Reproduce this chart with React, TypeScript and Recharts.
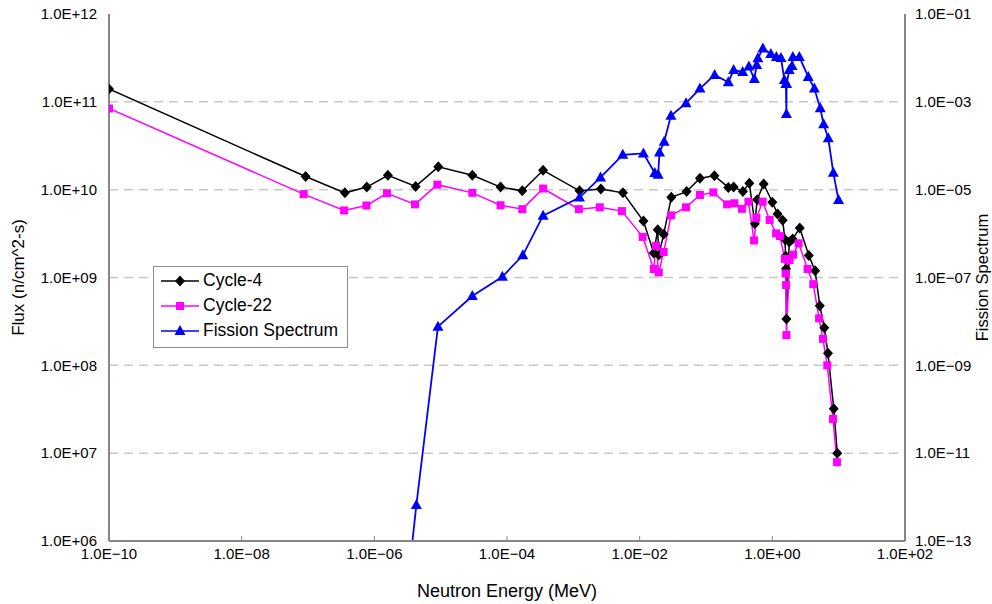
import React from 'react';
import {
  ComposedChart,
  Line,
  XAxis,
  YAxis,
  ReferenceLine,
  Legend,
} from 'recharts';

// values
const cycle4Energy = [1.0e-10, 9.2e-8, 3.6e-7, 7.7e-7, 1.6e-6, 4.2e-6, 9.2e-6, 3.0e-5, 8.0e-5, 1.7e-4, 3.5e-4, 1.24e-3, 2.6e-3, 5.6e-3, 1.14e-2, 1.63e-2, 1.87e-2, 1.94e-2, 2.3e-2, 3.0e-2, 5.1e-2, 8.1e-2, 0.134, 0.217, 0.261, 0.36, 0.45, 0.545, 0.59, 0.74, 1.0, 1.2, 1.43, 1.55, 1.585, 1.61, 1.63, 1.8, 2.02, 2.59, 3.55, 4.42, 5.19, 6.07, 6.9, 8.43, 9.53];
const cycle4Flux = [1.4e11, 1.41e10, 9.2e9, 1.07e10, 1.46e10, 1.09e10, 1.82e10, 1.46e10, 1.07e10, 9.7e9, 1.66e10, 9.7e9, 1.02e10, 9.2e9, 4.4e9, 1.9e9, 3.5e9, 1.8e9, 3.1e9, 8.2e9, 9.5e9, 1.35e10, 1.44e10, 1.06e10, 1.07e10, 9.5e9, 1.18e10, 4.1e9, 7.7e9, 1.16e10, 7.2e9, 5.3e9, 4.5e9, 2.7e9, 1.76e9, 1.26e9, 3.37e8, 2.54e9, 2.74e9, 3.66e9, 1.78e9, 1.19e9, 4.78e8, 2.68e8, 1.37e8, 3.21e7, 1.0e7];

const cycle22Energy = [1.0e-10, 8.6e-8, 3.5e-7, 7.6e-7, 1.55e-6, 4.1e-6, 8.9e-6, 3.0e-5, 8.0e-5, 1.7e-4, 3.5e-4, 1.21e-3, 2.5e-3, 5.4e-3, 1.11e-2, 1.63e-2, 1.77e-2, 1.94e-2, 2.3e-2, 2.98e-2, 5.0e-2, 8.1e-2, 0.129, 0.208, 0.268, 0.348, 0.436, 0.53, 0.574, 0.714, 0.91, 1.14, 1.3, 1.54, 1.585, 1.61, 1.63, 1.82, 2.06, 2.49, 3.4, 4.14, 5.07, 5.79, 6.73, 8.2, 9.42];
const cycle22Flux = [8.4e10, 8.9e9, 5.8e9, 6.6e9, 9.1e9, 6.8e9, 1.14e10, 9.2e9, 6.65e9, 6.0e9, 1.03e10, 6.0e9, 6.3e9, 5.7e9, 2.9e9, 1.25e9, 2.29e9, 1.14e9, 1.95e9, 5.1e9, 6.3e9, 8.7e9, 9.3e9, 6.8e9, 7.0e9, 6.05e9, 7.3e9, 2.64e9, 4.75e9, 7.3e9, 4.52e9, 3.18e9, 2.96e9, 1.63e9, 1.11e9, 8.2e8, 2.21e8, 1.58e9, 1.82e9, 2.45e9, 1.25e9, 8.4e8, 3.43e8, 2.0e8, 1.0e8, 2.45e7, 7.9e6];

const fissionEnergy = [2.7e-6, 4.3e-6, 9.1e-6, 3.0e-5, 8.5e-5, 1.73e-4, 3.5e-4, 1.24e-3, 2.57e-3, 5.56e-3, 1.14e-2, 1.69e-2, 1.9e-2, 1.99e-2, 2.34e-2, 2.96e-2, 5.0e-2, 8.1e-2, 0.135, 0.217, 0.261, 0.357, 0.443, 0.536, 0.58, 0.605, 0.72, 0.95, 1.15, 1.35, 1.52, 1.6, 1.63, 1.64, 1.8, 1.98, 2.04, 2.55, 3.48, 4.3, 5.28, 5.93, 6.97, 8.3, 9.95];
const fissionSpectrum = [1e-15, 6.6e-13, 7.6e-9, 3.8e-8, 1.04e-7, 3.2e-7, 2.56e-6, 6.6e-6, 1.9e-5, 6.2e-5, 6.7e-5, 2.4e-5, 2.2e-5, 7.0e-5, 1.24e-4, 4.8e-4, 9.3e-4, 2.0e-3, 4.1e-3, 2.8e-3, 5.3e-3, 4.8e-3, 6.4e-3, 3.3e-3, 6.9e-3, 9.8e-3, 1.64e-2, 1.23e-2, 1.05e-2, 9.95e-3, 3.14e-3, 2.55e-3, 5.3e-4, 2.55e-3, 5.3e-3, 6.55e-3, 1.05e-2, 1.05e-2, 3.7e-3, 2.0e-3, 7.1e-4, 3.1e-4, 1.48e-4, 2.44e-5, 5.8e-6];

const energyTicks = [1e-10, 1e-8, 1e-6, 1e-4, 1e-2, 1e0, 1e2];
const fluxTicks = [1e6, 1e7, 1e8, 1e9, 1e10, 1e11, 1e12];
const spectrumTicks = [1e-13, 1e-11, 1e-9, 1e-7, 1e-5, 1e-3, 1e-1];
const gridLevels = [1e7, 1e8, 1e9, 1e10, 1e11];

const FONT = '"Liberation Sans", Arial, sans-serif';

const toPoints = (xs: number[], ys: number[]) => xs.map((e, i) => ({ e, v: ys[i] }));
const cycle4 = toPoints(cycle4Energy, cycle4Flux);
const cycle22 = toPoints(cycle22Energy, cycle22Flux);
const fission = toPoints(fissionEnergy, fissionSpectrum);

const sci = (v: number) => {
  const exp = Math.round(Math.log10(v));
  const sign = exp < 0 ? '\u2212' : '+';
  return `1.0E${sign}${String(Math.abs(exp)).padStart(2, '0')}`;
};

const Diamond = ({ cx, cy }: any) => (
  <polygon points={`${cx},${cy - 5.5} ${cx + 5},${cy} ${cx},${cy + 5.5} ${cx - 5},${cy}`} fill="#000" />
);
const Square = ({ cx, cy }: any) => (
  <rect x={cx - 4} y={cy - 4} width={8} height={8} fill="#ff00ff" />
);
const Triangle = ({ cx, cy }: any) => (
  <polygon points={`${cx},${cy - 6} ${cx + 5.5},${cy + 4} ${cx - 5.5},${cy + 4}`} fill="#0000ff" />
);

const legendItems = [
  { name: 'Cycle-4', color: '#000', Marker: Diamond },
  { name: 'Cycle-22', color: '#ff00ff', Marker: Square },
  { name: 'Fission Spectrum', color: '#0000ff', Marker: Triangle },
];

const LegendBox = () => (
  <div
    style={{
      border: '1px solid #8c8c8c',
      background: '#fff',
      padding: '1px 6px 4px 6px',
      fontFamily: FONT,
      fontSize: 17.5,
      color: '#000',
    }}
  >
    {legendItems.map(({ name, color, Marker }) => (
      <div key={name} style={{ display: 'flex', alignItems: 'center', height: 25 }}>
        <svg width={40} height={14}>
          <line x1={1} y1={7} x2={39} y2={7} stroke={color} strokeWidth={1.5} />
          <Marker cx={20} cy={7} />
        </svg>
        <span style={{ marginLeft: 3 }}>{name}</span>
      </div>
    ))}
  </div>
);

const EnergyTick = ({ x, y, payload }: any) => (
  <g>
    <line x1={x} y1={y - 6} x2={x} y2={y - 11} stroke="#868686" />
    <text x={x} y={y} dy={12} textAnchor="middle" fill="#000" fontSize={15} fontFamily={FONT}>
      {sci(payload.value)}
    </text>
  </g>
);

export default function App() {
  return (
    <div style={{ position: 'absolute', left: 0, top: 0, background: '#fff' }}>
      <ComposedChart width={992} height={604} margin={{ top: 14, right: 0, bottom: 0, left: 0 }}>
        <XAxis
          dataKey="e"
          type="number"
          scale="log"
          domain={[1e-10, 1e2]}
          ticks={energyTicks}
          allowDataOverflow
          height={63}
          tickSize={0}
          tickMargin={6}
          tickLine={false}
          tick={<EnergyTick />}
          axisLine={{ stroke: '#868686', strokeWidth: 2 }}
          label={{
            value: 'Neutron Energy (MeV)',
            position: 'insideBottom',
            offset: 7,
            style: { fontSize: 18, fontFamily: FONT, fill: '#000' },
          }}
        />
        <YAxis
          yAxisId="left"
          type="number"
          scale="log"
          domain={[1e6, 1e12]}
          ticks={fluxTicks}
          allowDataOverflow
          width={109}
          tickSize={0}
          tickMargin={12}
          tickFormatter={sci}
          tick={{ fill: '#000', fontSize: 15, fontFamily: FONT }}
          axisLine={{ stroke: '#868686', strokeWidth: 2 }}
          label={{
            value: 'Flux (n/cm^2-s)',
            angle: -90,
            position: 'insideLeft',
            offset: 18,
            style: { textAnchor: 'middle', fontSize: 17, fontFamily: FONT, fill: '#000' },
          }}
        />
        <YAxis
          yAxisId="right"
          orientation="right"
          type="number"
          scale="log"
          domain={[1e-13, 1e-1]}
          ticks={spectrumTicks}
          allowDataOverflow
          width={87}
          tickSize={0}
          tickMargin={10}
          tickFormatter={sci}
          tick={{ fill: '#000', fontSize: 15, fontFamily: FONT }}
          axisLine={{ stroke: '#868686', strokeWidth: 2 }}
          label={{
            value: 'Fission Spectrum',
            angle: -90,
            position: 'insideRight',
            offset: 10,
            style: { textAnchor: 'middle', fontSize: 16.5, fontFamily: FONT, fill: '#000' },
          }}
        />
        {gridLevels.map((lvl) => (
          <ReferenceLine key={lvl} yAxisId="left" y={lvl} stroke="#c8c8c8" strokeWidth={1.5} strokeDasharray="9 6" />
        ))}
        <Line
          yAxisId="left"
          data={cycle4}
          dataKey="v"
          name="Cycle-4"
          stroke="#000"
          strokeWidth={1.5}
          dot={(p: any) => <Diamond key={`c4-${p.index}`} cx={p.cx} cy={p.cy} />}
          isAnimationActive={false}
        />
        <Line
          yAxisId="left"
          data={cycle22}
          dataKey="v"
          name="Cycle-22"
          stroke="#ff00ff"
          strokeWidth={1.5}
          dot={(p: any) => <Square key={`c22-${p.index}`} cx={p.cx} cy={p.cy} />}
          isAnimationActive={false}
        />
        <Line
          yAxisId="right"
          data={fission}
          dataKey="v"
          name="Fission Spectrum"
          stroke="#0000ff"
          strokeWidth={1.8}
          dot={(p: any) => <Triangle key={`fs-${p.index}`} cx={p.cx} cy={p.cy} />}
          isAnimationActive={false}
        />
        <Legend
          layout="vertical"
          align="center"
          verticalAlign="middle"
          content={<LegendBox />}
          wrapperStyle={{ left: 153, top: 266, width: 195 }}
        />
      </ComposedChart>
    </div>
  );
}
